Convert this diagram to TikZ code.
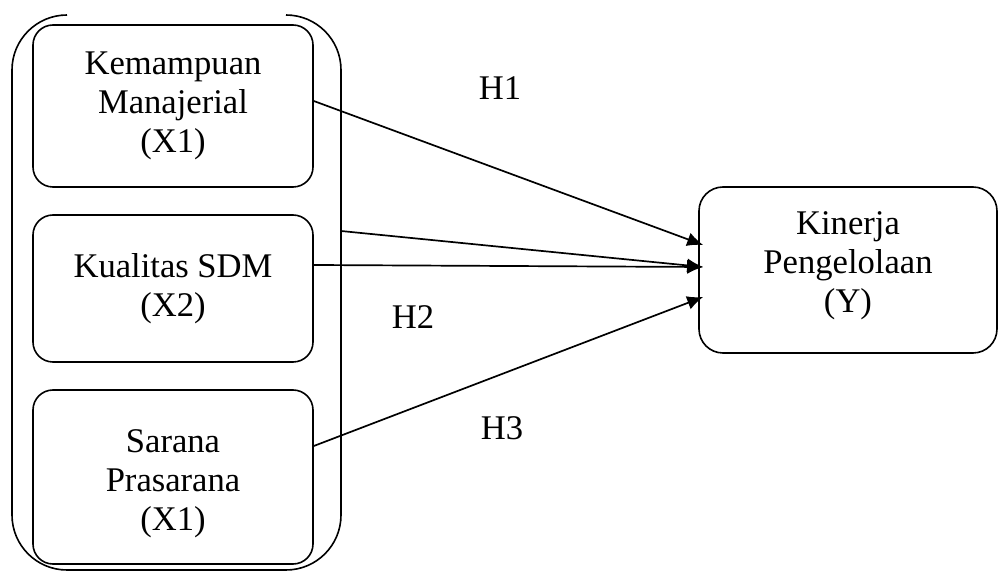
\documentclass[tikz,border=0pt]{standalone}
\usepackage{fontspec}
\setmainfont{Liberation Serif}
\usetikzlibrary{arrows.meta}

\tikzstyle{var} = [draw,line width=0.8pt,rounded corners=10pt,align=center,inner sep=0pt]
\tikzstyle{link} = [draw,line width=0.85pt,-{Latex[length=8pt,width=7pt]}]
\tikzstyle{hyp} = [inner sep=0pt]

\begin{document}
\begin{tikzpicture}[x=0.5pt, y=-0.5pt, font=\fontsize{17.3}{19.5}\selectfont]
    \useasboundingbox (0,0) rectangle (998,572);
    % First the independent variables
    \node[var, minimum width=140pt, minimum height=81pt] (x1) at (173,106)
        {Kemampuan\\Manajerial\\(X1)};
    \node[var, minimum width=140pt, minimum height=73.5pt] (x2) at (173,288.5)
        {Kualitas SDM\\(X2)};
    \node[var, minimum width=140pt, minimum height=87pt] (x3) at (173,477)
        {\mbox{}\\[-1pt]Sarana\\Prasarana\\(X1)};
    % the group around them, open at the top
    \draw[line width=0.8pt, rounded corners=27.5pt]
        (67,15) -- (12,15) -- (12,570) -- (341,570) -- (341,15) -- (286,15);
    \coordinate (grp) at (341,231);
    % dependent variable
    \node[var, rounded corners=12pt, minimum width=149pt, minimum height=83pt] (y) at (848,270)
        {Kinerja\\Pengelolaan\\(Y)\\[-12pt]\mbox{}};
    % Connect them with arrows
    \foreach \source/\ds/\dt in {x1/2.5pt/12.5pt, grp/0pt/1.5pt, x2/11.75pt/1.5pt, x3/15.5pt/-13.5pt}
        \path[link] ([yshift=\ds]\source.east) -- ([xshift=2.5pt,yshift=\dt]y.west);
    % hypothesis labels
    \node[hyp] (h1) at (500,88) {H1};
    \node[hyp] (h2) at (413,317) {H2};
    \node[hyp] (h3) at (502,428) {H3};
\end{tikzpicture}
\end{document}
